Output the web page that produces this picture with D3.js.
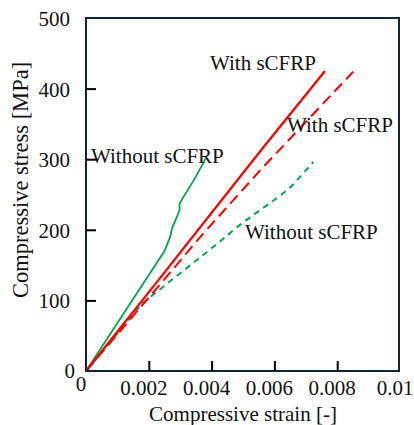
<!DOCTYPE html>
<html><head><meta charset="utf-8">
<script src="https://cdn.jsdelivr.net/npm/d3@7/dist/d3.min.js"></script>
<style>body{margin:0;background:#fff}svg{display:block}</style>
</head><body><svg id="c" width="414" height="425"></svg>
<script>
// data
const xTicks = [0, 0.002, 0.004, 0.006, 0.008, 0.01];
const xTickLabels = ["0", "0.002", "0.004", "0.006", "0.008", "0.01"];
const yTicks = [0, 100, 200, 300, 400, 500];
const yTickLabels = ["0", "100", "200", "300", "400", "500"];

const withoutSolidStrain = [0, 0.0025, 0.00268, 0.00274, 0.0029, 0.00298, 0.00298, 0.00311, 0.00343, 0.00373, 0.0038];
const withoutSolidStress = [0, 170, 190, 202, 219, 228, 237, 247, 270, 294, 301];
const withSolidStrain = [0, 0.0024, 0.00556, 0.00761];
const withSolidStress = [0, 134, 312, 425];
const withDashStrain = [0, 0.0025, 0.00364, 0.00556, 0.00851];
const withDashStress = [0, 130, 190, 285, 424];
const withoutDashStrain = [0, 0.0018, 0.0042, 0.0049, 0.0062, 0.00655, 0.00724];
const withoutDashStress = [0, 96, 181, 207, 249, 262, 296];

const labels = ["With sCFRP", "With sCFRP", "Without sCFRP", "Without sCFRP"];

const svg = d3.select("#c");
const FONT = '"Liberation Serif"';
const L = 86, R = 400, T = 18, B = 371;
const x = d3.scaleLinear().domain([0, 0.01]).range([L, R]);
const y = d3.scaleLinear().domain([0, 500]).range([B, T]);

const green = "#00a651", red = "#ff0000";

function pts(xs, ys){ return xs.map((v,i)=>[v, ys[i]]); }
const line = d3.line().x(d=>x(d[0])).y(d=>y(d[1]));

const series = [
  {d: pts(withoutSolidStrain, withoutSolidStress), c: green, w: 1.8, dash: null},
  {d: pts(withoutDashStrain, withoutDashStress), c: green, w: 2, dash: "6,5"},
  {d: pts(withDashStrain, withDashStress), c: red, w: 2, dash: "11,6"},
  {d: pts(withSolidStrain, withSolidStress), c: red, w: 2.3, dash: null}
];
series.forEach(s=>{
  svg.append("path").attr("d", line(s.d)).attr("fill","none")
    .attr("stroke", s.c).attr("stroke-width", s.w)
    .attr("stroke-dasharray", s.dash);
});

// frame
svg.append("rect").attr("x", L).attr("y", T).attr("width", x(0.01)-L - 1).attr("height", B-T)
  .attr("fill","none").attr("stroke","#0d2636").attr("stroke-width",2);

// x axis ticks (inward)
const xa = svg.append("g").attr("transform",`translate(0,${B})`)
  .call(d3.axisBottom(x).tickValues(xTicks.slice(1,5)).tickSize(-10).tickFormat(""));
xa.select(".domain").remove();
xa.selectAll("line").attr("stroke","#000").attr("stroke-width",2);
// y axis ticks (inward)
const ya = svg.append("g").attr("transform",`translate(${L},0)`)
  .call(d3.axisLeft(y).tickValues(yTicks.slice(1,5)).tickSize(-10).tickFormat(""));
ya.select(".domain").remove();
ya.selectAll("line").attr("stroke","#000").attr("stroke-width",2);

function txt(sel){ return sel.style("font-family", FONT).attr("fill", "#111"); }

// tick labels
txt(svg.append("g").selectAll("text").data(xTicks).join("text")
  .attr("x", (d,i)=> x(d) - 5)
  .attr("y", (d,i)=> i===0 ? 391 : 395)
  .attr("text-anchor","middle").attr("font-size",21)
  .text((d,i)=>xTickLabels[i]));
txt(svg.append("g").selectAll("text").data(yTicks).join("text")
  .attr("x", (d,i)=> i===0 ? 75 : 70)
  .attr("y", (d,i)=> y(d) + (i===0 ? 7 : 8))
  .attr("text-anchor","end").attr("font-size",21)
  .text((d,i)=>yTickLabels[i]));

// axis titles
txt(svg.append("text").attr("x", 243).attr("y", 421).attr("text-anchor","middle")
  .attr("font-size",21).text("Compressive strain [-]"));
txt(svg.append("text").attr("transform","translate(28,180) rotate(-90)").attr("text-anchor","middle")
  .attr("font-size",22.5).text("Compressive stress [MPa]"));

// annotations
const ann = [[210, 70], [287, 132], [91, 163], [245, 239]];
ann.forEach((p,i)=>{
  txt(svg.append("text").attr("x", p[0]).attr("y", p[1]).attr("font-size",21).text(labels[i]));
});
</script></body></html>
